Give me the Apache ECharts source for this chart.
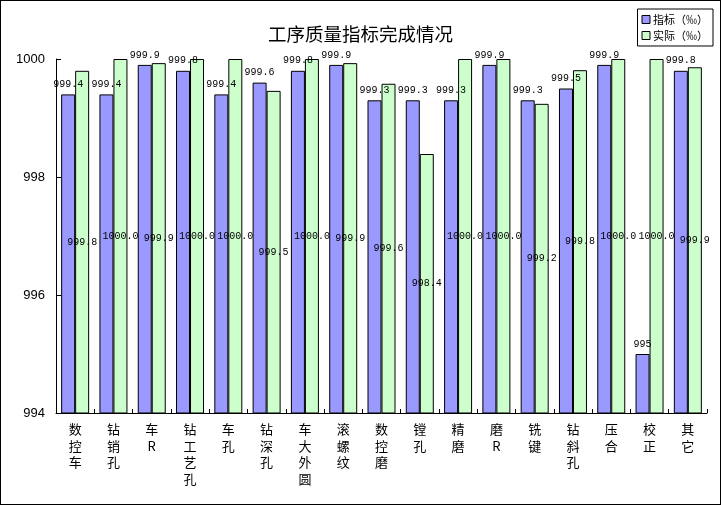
<!DOCTYPE html>
<html>
<head>
<meta charset="utf-8">
<script src="https://cdn.jsdelivr.net/npm/echarts@6/dist/echarts.min.js"></script>
<style>
  html, body { margin: 0; padding: 0; background: #fff; }
  #chart { width: 721px; height: 505px; box-sizing: border-box; border: 1px solid #000; }
</style>
</head>
<body>
<div id="chart"></div>
<script>
// 工序名称
const categories = ['数控车', '钻销孔', '车R', '钻工艺孔', '车孔', '钻深孔', '车大外圆', '滚螺纹', '数控磨',
  '镗孔', '精磨', '磨R', '铣键', '钻斜孔', '压合', '校正', '其它']
// 指标（‰）
const targetData = [999.4, 999.4, 999.9, 999.8, 999.4, 999.6, 999.8, 999.9, 999.3,
  999.3, 999.3, 999.9, 999.3, 999.5, 999.9, 995, 999.8]
// 实际（‰）
const actualData = [999.8, 1000, 999.93, 1000, 1000, 999.46, 1000, 999.93, 999.58,
  998.39, 1000, 1000, 999.24, 999.81, 1000, 1000, 999.86]
const yTicks = [994, 996, 998, 1000]

const chart = echarts.init(document.getElementById('chart'))
const labelFont = { fontFamily: 'Liberation Mono', fontSize: 10, color: '#000' }

const option = {
  animation: false,
  title: {
    text: '工序质量指标完成情况',
    left: 'center',
    top: 19,
    textStyle: { fontFamily: 'Noto Sans CJK SC', fontSize: 18.5, fontWeight: 'normal', color: '#000' }
  },
  legend: {
    right: 7,
    top: 8,
    orient: 'vertical',
    icon: 'rect',
    itemWidth: 8,
    itemHeight: 8,
    itemGap: 5,
    padding: [5, 5, 5, 4],
    borderColor: '#000',
    borderWidth: 1,
    backgroundColor: '#fff',
    itemStyle: { borderColor: '#000', borderWidth: 1 },
    textStyle: { fontFamily: 'Noto Sans CJK SC', fontSize: 11, color: '#000', padding: [0, 0, 0, -2] },
    data: ['指标（‰）', '实际（‰）']
  },
  grid: { left: 55, right: 13, top: 58, bottom: 91 },
  xAxis: {
    type: 'category',
    data: categories,
    axisLine: { lineStyle: { color: '#000', width: 1 } },
    axisTick: { show: true, inside: true, length: 4, lineStyle: { color: '#000' } },
    axisLabel: {
      interval: 0,
      margin: 8,
      fontFamily: 'Noto Sans CJK SC',
      fontSize: 13,
      lineHeight: 16.5,
      color: '#000',
      verticalAlign: 'top',
      formatter: function (v) { return v.split('').join('\n') }
    }
  },
  yAxis: {
    type: 'value',
    min: yTicks[0],
    max: yTicks[yTicks.length - 1],
    interval: 2,
    splitLine: { show: false },
    axisLine: { show: true, lineStyle: { color: '#000', width: 1 } },
    axisTick: { show: true, inside: true, length: 5, lineStyle: { color: '#000' } },
    axisLabel: {
      margin: 11, fontFamily: 'Liberation Sans', fontSize: 13, color: '#000',
      formatter: function (v) { return String(v) }
    }
  },
  series: [
    {
      name: '指标（‰）',
      type: 'bar',
      data: targetData,
      barWidth: 14,
      barGap: '0%',
      itemStyle: { color: '#9999FF', borderColor: '#000', borderWidth: 1 },
      label: {
        show: true,
        position: 'top',
        distance: 5,
        ...labelFont,
        formatter: function (p) { return String(p.value) }
      }
    },
    {
      name: '实际（‰）',
      type: 'bar',
      data: actualData,
      barWidth: 14,
      itemStyle: { color: '#CCFFCC', borderColor: '#000', borderWidth: 1 },
      label: {
        show: true,
        position: 'inside',
        ...labelFont,
        formatter: function (p) { return p.value.toFixed(1) }
      }
    }
  ]
}
chart.setOption(option)
</script>
</body>
</html>
